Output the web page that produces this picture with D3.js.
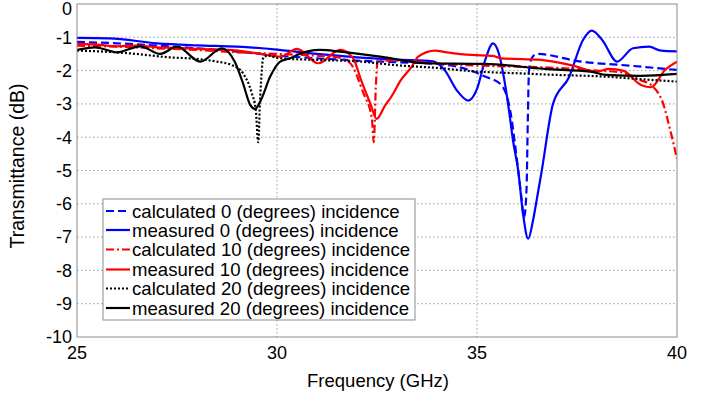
<!DOCTYPE html>
<html>
<head>
<meta charset="utf-8">
<script src="https://cdn.jsdelivr.net/npm/d3@7"></script>
<style>
  body { margin: 0; background: #fff; }
  svg { font-family: "Liberation Sans", Arial, sans-serif; }
</style>
</head>
<body>
<svg id="chart" width="711" height="398"></svg>
<script>
// [frequency GHz, transmittance dB]
const calc0 = [[25,-1.14],[26,-1.18],[27,-1.25],[28,-1.33],[29,-1.43],[30,-1.55],[31,-1.63],[32,-1.7],[33,-1.75],[34,-1.8],[34.8,-1.98],[35.2,-2.18],[35.6,-2.42],[35.83,-3.2],[36.0,-4.7],[36.1,-5.7],[36.18,-6.4],[36.24,-5.5],[36.27,-3.5],[36.3,-2.0],[36.38,-1.6],[36.5,-1.5],[37.6,-1.73],[38.8,-1.85],[40,-1.98]];
const meas0 = [[25,-1.02],[25.8,-1.03],[27,-1.18],[28,-1.24],[29,-1.28],[30,-1.37],[31,-1.5],[32,-1.6],[33,-1.67],[33.9,-1.72],[34.2,-2.0],[34.5,-2.6],[34.78,-2.9],[35.0,-2.55],[35.2,-1.7],[35.4,-1.18],[35.55,-1.5],[35.7,-2.4],[35.8,-3.2],[35.9,-4.1],[36.03,-5.0],[36.15,-6.3],[36.28,-7.05],[36.4,-6.5],[36.49,-5.9],[36.62,-5.0],[36.9,-3.0],[37.3,-2.2],[37.65,-1.08],[37.87,-0.8],[38.13,-1.08],[38.5,-1.73],[38.9,-1.33],[39.3,-1.28],[39.6,-1.4],[40,-1.42]];
const calc10 = [[25,-1.25],[26,-1.28],[27,-1.33],[28,-1.38],[29,-1.45],[30,-1.5],[31,-1.55],[31.5,-1.6],[31.83,-1.78],[32.16,-2.68],[32.37,-3.43],[32.42,-4.15],[32.47,-2.5],[32.52,-1.7],[33,-1.7],[34,-1.78],[35,-1.85],[36,-1.88],[37,-1.92],[38,-2.0],[38.6,-2.05],[39.08,-2.28],[39.4,-2.48],[39.65,-2.98],[39.83,-3.78],[40,-4.65]];
const meas10 = [[25,-1.2],[25.5,-1.22],[26,-1.27],[26.5,-1.25],[27,-1.3],[27.5,-1.32],[28,-1.35],[28.8,-1.38],[29.5,-1.48],[30.08,-1.58],[30.5,-1.35],[31.03,-1.78],[31.58,-1.38],[31.9,-1.62],[32.1,-2.28],[32.33,-2.98],[32.49,-3.45],[32.7,-3.05],[32.85,-2.8],[33.1,-2.28],[33.37,-1.88],[33.53,-1.58],[33.95,-1.4],[34.25,-1.45],[34.87,-1.53],[35.4,-1.56],[35.6,-1.63],[36.6,-1.68],[37.4,-1.85],[38.0,-2.03],[38.3,-1.95],[38.65,-2.0],[39.1,-2.43],[39.35,-2.5],[39.7,-1.98],[40,-1.73]];
const calc20 = [[25,-1.4],[25.5,-1.42],[26.3,-1.48],[27.3,-1.6],[28,-1.65],[28.45,-1.72],[28.9,-1.85],[29.15,-2.08],[29.37,-2.68],[29.47,-3.18],[29.53,-4.15],[29.58,-2.8],[29.66,-1.6],[29.8,-1.55],[30,-1.62],[31,-1.68],[32,-1.72],[33,-1.84],[34,-1.92],[35,-2.03],[36,-2.08],[37,-2.13],[38.2,-2.18],[39,-2.25],[40,-2.33]];
const meas20 = [[25,-1.38],[25.45,-1.3],[26.0,-1.45],[26.58,-1.27],[27.08,-1.5],[27.5,-1.28],[28.08,-1.73],[28.62,-1.33],[28.95,-1.75],[29.15,-2.38],[29.33,-3.03],[29.45,-3.15],[29.6,-2.88],[29.83,-2.18],[30.08,-1.73],[30.33,-1.63],[30.5,-1.53],[31.08,-1.38],[31.58,-1.43],[32.58,-1.58],[33.7,-1.78],[35.2,-1.8],[36.7,-1.95],[37.83,-2.03],[38.24,-2.13],[39.1,-2.16],[40,-2.1]];

const xTicks = [25, 30, 35, 40];
const yTicks = [0, -1, -2, -3, -4, -5, -6, -7, -8, -9, -10];

const series = [
  { label: "calculated 0 (degrees) incidence", data: calc0, color: "#0000ff", dash: "8,4" },
  { label: "measured 0 (degrees) incidence", data: meas0, color: "#0000ff", dash: null },
  { label: "calculated 10 (degrees) incidence", data: calc10, color: "#ff0000", dash: "8,3,2,3" },
  { label: "measured 10 (degrees) incidence", data: meas10, color: "#ff0000", dash: null },
  { label: "calculated 20 (degrees) incidence", data: calc20, color: "#000000", dash: "2,2" },
  { label: "measured 20 (degrees) incidence", data: meas20, color: "#000000", dash: null }
];

const svg = d3.select("#chart");
const margin = { left: 77, right: 34, top: 4, bottom: 61 };
const W = 711, H = 398;

const x = d3.scaleLinear().domain([25, 40]).range([margin.left, W - margin.right]);
const y = d3.scaleLinear().domain([-10, 0]).range([H - margin.bottom, margin.top]);

// grid
svg.append("g").selectAll("line").data(yTicks.slice(1, -1)).enter().append("line")
  .attr("x1", x(25)).attr("x2", x(40))
  .attr("y1", d => y(d)).attr("y2", d => y(d))
  .attr("stroke", "#9a9a9a").attr("stroke-width", 1).attr("stroke-dasharray", "1.5,2.5");
svg.append("g").selectAll("line").data(xTicks.slice(1, -1)).enter().append("line")
  .attr("y1", y(0)).attr("y2", y(-10))
  .attr("x1", d => x(d)).attr("x2", d => x(d))
  .attr("stroke", "#9a9a9a").attr("stroke-width", 1).attr("stroke-dasharray", "1.5,2.5");

svg.append("defs").append("clipPath").attr("id", "clip")
  .append("rect").attr("x", x(25)).attr("y", y(0)).attr("width", x(40) - x(25)).attr("height", y(-10) - y(0));

const line = d3.line().x(d => x(d[0])).y(d => y(d[1])).curve(d3.curveMonotoneX);

svg.append("g").attr("clip-path", "url(#clip)").selectAll("path").data(series).enter().append("path")
  .attr("d", d => line(d.data))
  .attr("fill", "none")
  .attr("stroke", d => d.color)
  .attr("stroke-width", 2.2)
  .attr("stroke-dasharray", d => d.dash);

// frame
svg.append("rect")
  .attr("x", x(25)).attr("y", y(0))
  .attr("width", x(40) - x(25)).attr("height", y(-10) - y(0))
  .attr("fill", "none").attr("stroke", "#8c8c8c").attr("stroke-width", 1);

// tick labels
svg.append("g").selectAll("text").data(yTicks).enter().append("text")
  .attr("x", 72).attr("y", d => Math.max(y(d), 9))
  .attr("dy", "0.35em").attr("text-anchor", "end")
  .style("font-size", "18px").text(d => d);
svg.append("g").selectAll("text").data(xTicks).enter().append("text")
  .attr("x", d => x(d)).attr("y", 359)
  .attr("text-anchor", "middle")
  .style("font-size", "18px").text(d => d);

svg.append("text").attr("x", 378).attr("y", 387).attr("text-anchor", "middle")
  .style("font-size", "18.5px").text("Frequency (GHz)");
svg.append("text").attr("transform", "translate(24,166) rotate(-90)").attr("text-anchor", "middle")
  .style("font-size", "19.5px").text("Transmittance (dB)");

// legend
const lg = svg.append("g");
lg.append("rect").attr("x", 103).attr("y", 199).attr("width", 312).attr("height", 121)
  .attr("fill", "#fff").attr("stroke", "#8c8c8c").attr("stroke-width", 1);
const rowY = [211, 230, 249.5, 269.5, 288.5, 308];
const item = lg.selectAll("g.item").data(series).enter().append("g").attr("class", "item")
  .attr("transform", (d, i) => `translate(0,${rowY[i]})`);
item.append("line").attr("x1", 106).attr("x2", 130).attr("y1", 0).attr("y2", 0)
  .attr("stroke", d => d.color).attr("stroke-width", 2.2).attr("stroke-dasharray", d => d.dash);
item.append("text").attr("x", 132).attr("y", 0).attr("dy", "0.35em")
  .style("font-size", "18.6px").text(d => d.label);
</script>
</body>
</html>
